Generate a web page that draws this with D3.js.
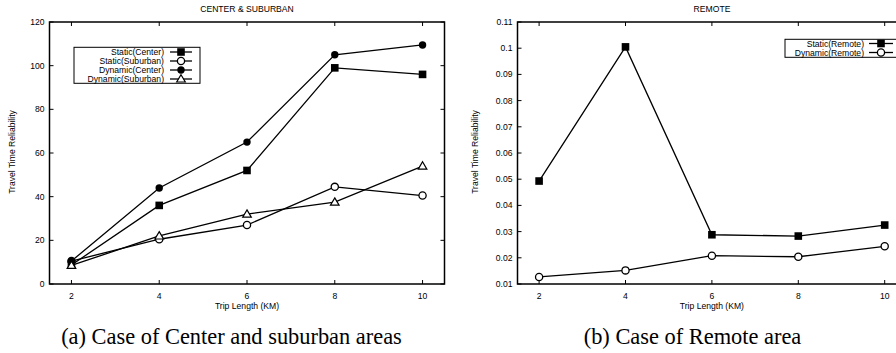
<!DOCTYPE html>
<html>
<head>
<meta charset="utf-8">
<script src="https://cdn.jsdelivr.net/npm/d3@7"></script>
<style>
  html, body { margin: 0; padding: 0; background: #fff; }
  svg { display: block; }
  text { font-family: "Liberation Sans", Arial, sans-serif; fill: #000; }
  .cap { font-family: "Liberation Serif", "Times New Roman", serif; }
</style>
</head>
<body>
<svg id="chart" width="896" height="353"></svg>
<script>
// ---------- data ----------
const tripLengths = [2, 4, 6, 8, 10];

const staticCenter    = [8.7, 36, 52, 99, 96];
const staticSuburban  = [10.5, 20.5, 27, 44.5, 40.5];
const dynamicCenter   = [10.5, 44, 65, 105, 109.5];
const dynamicSuburban = [8.5, 22, 32, 37.5, 54];

const staticRemote  = [0.0493, 0.1005, 0.0288, 0.0283, 0.0325];
const dynamicRemote = [0.0127, 0.0152, 0.0208, 0.0204, 0.0244];

const xTicks = [2, 4, 6, 8, 10];
const yTicksLeft = [0, 20, 40, 60, 80, 100, 120];
const yTicksRight = [0.01, 0.02, 0.03, 0.04, 0.05, 0.06, 0.07, 0.08, 0.09, 0.1, 0.11];

const leftSeries = [
  { name: "Static(Center)", values: staticCenter, marker: "square" },
  { name: "Static(Suburban)", values: staticSuburban, marker: "circleOpen" },
  { name: "Dynamic(Center)", values: dynamicCenter, marker: "circleFilled" },
  { name: "Dynamic(Suburban)", values: dynamicSuburban, marker: "triangleOpen" }
];
const rightSeries = [
  { name: "Static(Remote)", values: staticRemote, marker: "square" },
  { name: "Dynamic(Remote)", values: dynamicRemote, marker: "circleOpen" }
];

// ---------- drawing ----------
const svg = d3.select("#chart");
const FS = 8.6;
const TICK = 4;

function drawMarker(g, type, cx, cy) {
  if (type === "square") {
    g.append("rect").attr("x", cx - 3.8).attr("y", cy - 3.8).attr("width", 7.6).attr("height", 7.6)
      .attr("fill", "#000");
  } else if (type === "circleOpen") {
    g.append("circle").attr("cx", cx).attr("cy", cy).attr("r", 3.6)
      .attr("fill", "#fff").attr("stroke", "#000").attr("stroke-width", 1.3);
  } else if (type === "circleFilled") {
    g.append("circle").attr("cx", cx).attr("cy", cy).attr("r", 3.7).attr("fill", "#000");
  } else if (type === "triangleOpen") {
    const s = 4.3;
    g.append("path")
      .attr("d", `M${cx},${cy - s} L${cx + s},${cy + s * 0.7} L${cx - s},${cy + s * 0.7} Z`)
      .attr("fill", "#fff").attr("stroke", "#000").attr("stroke-width", 1.2);
  }
}

function panel(opts) {
  const x = d3.scaleLinear().domain([1.5, 10.5]).range([opts.x0, opts.x1]);
  const y = d3.scaleLinear().domain(opts.yDomain).range([284, 22]);
  const g = svg.append("g");

  // title
  g.append("text").attr("x", opts.titleX).attr("y", 12).attr("text-anchor", "middle")
    .attr("font-size", FS).text(opts.title);

  // ticks inward on all four sides
  const axisG = g.append("g");
  xTicks.forEach(t => {
    const px = x(t);
    axisG.append("line").attr("x1", px).attr("x2", px).attr("y1", 284).attr("y2", 284 - TICK)
      .attr("stroke", "#000").attr("stroke-width", 1);
    axisG.append("line").attr("x1", px).attr("x2", px).attr("y1", 22).attr("y2", 22 + TICK)
      .attr("stroke", "#000").attr("stroke-width", 1);
    axisG.append("text").attr("x", px).attr("y", 299).attr("text-anchor", "middle")
      .attr("font-size", FS).text(t);
  });
  opts.yTicks.forEach(t => {
    const py = y(t);
    axisG.append("line").attr("x1", opts.x0).attr("x2", opts.x0 + TICK).attr("y1", py).attr("y2", py)
      .attr("stroke", "#000").attr("stroke-width", 1);
    axisG.append("line").attr("x1", opts.x1).attr("x2", opts.x1 - TICK).attr("y1", py).attr("y2", py)
      .attr("stroke", "#000").attr("stroke-width", 1);
    axisG.append("text").attr("x", opts.x0 - 5).attr("y", py + 3).attr("text-anchor", "end")
      .attr("font-size", FS).text(opts.fmt(t));
  });

  // border
  g.append("rect").attr("x", opts.x0).attr("y", 22).attr("width", opts.x1 - opts.x0).attr("height", 262)
    .attr("fill", "none").attr("stroke", "#000").attr("stroke-width", 1.5);

  // axis labels
  g.append("text").attr("x", (x(2) + x(10)) / 2).attr("y", 309).attr("text-anchor", "middle")
    .attr("font-size", FS).text("Trip Length (KM)");
  g.append("text").attr("transform", `translate(${opts.yLabelX},152) rotate(-90)`)
    .attr("text-anchor", "middle").attr("font-size", FS).text("Travel Time Reliability");

  // series
  const line = d3.line().x((d, i) => x(tripLengths[i])).y(d => y(d));
  opts.series.forEach(s => {
    g.append("path").datum(s.values).attr("d", line)
      .attr("fill", "none").attr("stroke", "#000").attr("stroke-width", 1.3);
  });
  opts.series.forEach(s => {
    const mg = g.append("g");
    s.values.forEach((v, i) => drawMarker(mg, s.marker, x(tripLengths[i]), y(v)));
  });

  // legend
  const L = opts.legend;
  const lg = g.append("g");
  lg.append("rect").attr("x", L.x0).attr("y", L.y0).attr("width", L.x1 - L.x0).attr("height", L.y1 - L.y0)
    .attr("fill", "#fff").attr("stroke", "#000").attr("stroke-width", 1);
  opts.series.forEach((s, i) => {
    const ry = L.rowY + i * L.rowH;
    lg.append("text").attr("x", L.textX).attr("y", ry + 3).attr("text-anchor", "end")
      .attr("font-size", FS).text(s.name);
    lg.append("line").attr("x1", L.lineX0).attr("x2", L.lineX1).attr("y1", ry).attr("y2", ry)
      .attr("stroke", "#000").attr("stroke-width", 1.3);
    drawMarker(lg, s.marker, (L.lineX0 + L.lineX1) / 2, ry);
  });
}

panel({
  x0: 49.5, x1: 444.5, yDomain: [0, 120], yTicks: yTicksLeft, fmt: d => d,
  title: "CENTER & SUBURBAN", titleX: 247, yLabelX: 15, series: leftSeries,
  legend: { x0: 74, x1: 200, y0: 47.3, y1: 83.3, rowY: 52, rowH: 9, textX: 164, lineX0: 170, lineX1: 192 }
});

panel({
  x0: 517.5, x1: 906.3, yDomain: [0.01, 0.11], yTicks: yTicksRight, fmt: d3.format("~g"),
  title: "REMOTE", titleX: 712, yLabelX: 478, series: rightSeries,
  legend: { x0: 785, x1: 905, y0: 39.3, y1: 57.3, rowY: 43.5, rowH: 9, textX: 864, lineX0: 869, lineX1: 893 }
});

// captions
svg.append("text").attr("class", "cap").attr("x", 231.5).attr("y", 344).attr("text-anchor", "middle")
  .attr("font-size", 22.4).text("(a) Case of Center and suburban areas");
svg.append("text").attr("class", "cap").attr("x", 692.5).attr("y", 344).attr("text-anchor", "middle")
  .attr("font-size", 22.4).text("(b) Case of Remote area");
</script>
</body>
</html>
